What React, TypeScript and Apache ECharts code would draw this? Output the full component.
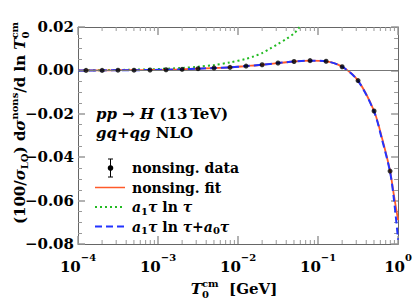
import React, { useEffect, useRef } from "react";
import * as echarts from "echarts";

const X_MIN = 1e-4;
const X_MAX = 1;
const Y_MIN = -0.08;
const Y_MAX = 0.02;
const Y_STEP = 0.02;

// nonsingular data points (tau in GeV)
const dataTau = [1.26e-4, 2.0e-4, 3.16e-4, 5.01e-4, 7.94e-4, 1.26e-3, 2.0e-3, 3.16e-3, 5.01e-3, 7.94e-3, 0.0126, 0.02, 0.0316, 0.0501, 0.0794, 0.126, 0.2, 0.316, 0.501, 0.794];
const dataVal = [0.0, 0.0, 0.0001, 0.0001, 0.0002, 0.0003, 0.0005, 0.0008, 0.0011, 0.0014, 0.002, 0.0026, 0.0034, 0.0041, 0.0045, 0.0042, 0.0017, -0.0047, -0.0187, -0.0464];

// nonsing. fit curve
const fitTau = [1e-4, 1.26e-4, 2.0e-4, 3.16e-4, 5.01e-4, 7.94e-4, 1.26e-3, 2.0e-3, 3.16e-3, 5.01e-3, 7.94e-3, 0.0126, 0.02, 0.0316, 0.0501, 0.0794, 0.126, 0.2, 0.316, 0.501, 0.631, 0.794, 0.891, 1.0];
const fitVal = [0.0, 0.0, 0.0, 0.0001, 0.0001, 0.0002, 0.0003, 0.0005, 0.0008, 0.0011, 0.0014, 0.002, 0.0026, 0.0034, 0.0041, 0.0045, 0.0042, 0.0017, -0.0047, -0.0187, -0.0313, -0.0464, -0.058, -0.069];

// a1 tau ln tau
const leadTau = [1e-4, 3.16e-4, 7.94e-4, 2.0e-3, 3.16e-3, 5.01e-3, 7.94e-3, 0.0126, 0.0158, 0.02, 0.0251, 0.0316, 0.0398, 0.0501, 0.0575, 0.0631];
const leadVal = [0.0, 0.0002, 0.0005, 0.0011, 0.0017, 0.0025, 0.0037, 0.0053, 0.0065, 0.008, 0.01, 0.0122, 0.0144, 0.017, 0.0195, 0.0215];

// a1 tau ln tau + a0 tau
const nloTau = [1e-4, 1.26e-4, 2.0e-4, 3.16e-4, 5.01e-4, 7.94e-4, 1.26e-3, 2.0e-3, 3.16e-3, 5.01e-3, 7.94e-3, 0.0126, 0.02, 0.0316, 0.0501, 0.0794, 0.126, 0.2, 0.316, 0.501, 0.631, 0.794, 0.891, 1.0];
const nloVal = [0.0, 0.0, 0.0, 0.0001, 0.0001, 0.0002, 0.0003, 0.0005, 0.0008, 0.0011, 0.0014, 0.002, 0.0026, 0.0034, 0.0041, 0.0045, 0.0042, 0.0017, -0.0048, -0.019, -0.032, -0.0468, -0.060, -0.078];

const FONT = '"DejaVu Serif", "Liberation Serif", serif';
const C_FIT = "#ff5a2a";
const C_LEAD = "#22bb22";
const C_NLO = "#2233ff";
const C_AXIS = "#666666";
const C_TICK = "#999999";

type Tok = { t: string; s: number; i?: boolean; dy?: number; stack?: boolean };

function layout(tokens: Tok[], x0: number, y0: number, align: "left" | "center"): any[] {
  const ctx = document.createElement("canvas").getContext("2d")!;
  const placed: { tok: Tok; x: number }[] = [];
  let x = 0;
  let prevX = 0;
  let prevW = 0;
  for (const tok of tokens) {
    ctx.font = `${tok.i ? "italic " : ""}bold ${tok.s}px ${FONT}`;
    const w = ctx.measureText(tok.t).width;
    if (tok.stack) {
      placed.push({ tok, x: prevX });
      prevW = Math.max(prevW, w);
      x = prevX + prevW;
    } else {
      placed.push({ tok, x });
      prevX = x;
      prevW = w;
      x += w;
    }
  }
  const off = align === "center" ? -x / 2 : 0;
  return placed.map(({ tok, x: tx }) => ({
    type: "text",
    x: x0 + tx + off,
    y: y0 + (tok.dy || 0),
    silent: true,
    style: {
      text: tok.t,
      fontSize: tok.s,
      fontFamily: FONT,
      fontWeight: "bold",
      fontStyle: tok.i ? "italic" : "normal",
      fill: "#000",
      align: "left",
      verticalAlign: "middle",
    },
  }));
}

const minorTicks: number[] = [];
for (let e = -4; e < 0; e++) {
  for (let k = 2; k <= 9; k++) minorTicks.push(k * Math.pow(10, e));
}

function expLabel(v: number) {
  const e = Math.round(Math.log10(v));
  const s = e < 0 ? "\u2212" + String(-e) : String(e);
  return "{b|10}{s|" + s + "}";
}

function yLabel(v: number) {
  const s = Math.abs(v) < 1e-9 ? "0.00" : v.toFixed(2);
  return s.replace("-", "\u2212");
}

export default function App() {
  const ref = useRef<HTMLDivElement>(null);
  useEffect(() => {
    document.body.style.margin = "0";
    const chart = echarts.init(ref.current!, undefined, { renderer: "svg" });

    const S = 15;
    const s = 10;
    const graphic: any[] = [];
    // annotation
    graphic.push(
      ...layout(
        [
          { t: "pp", s: S, i: true },
          { t: " \u2192 ", s: S },
          { t: "H", s: S, i: true },
          { t: " (13\u2009TeV)", s: S },
        ],
        96,
        114,
        "left"
      )
    );
    graphic.push(
      ...layout(
        [
          { t: "gq", s: S, i: true },
          { t: "+", s: S },
          { t: "qg", s: S, i: true },
          { t: " NLO", s: S },
        ],
        96,
        133,
        "left"
      )
    );
    // legend
    const LS = 14;
    const lx = 132;
    graphic.push(
      { type: "line", silent: true, shape: { x1: 110.5, y1: 159, x2: 110.5, y2: 177 }, style: { stroke: "#000", lineWidth: 1 } },
      { type: "line", silent: true, shape: { x1: 108, y1: 159, x2: 113, y2: 159 }, style: { stroke: "#000", lineWidth: 1 } },
      { type: "line", silent: true, shape: { x1: 108, y1: 177, x2: 113, y2: 177 }, style: { stroke: "#000", lineWidth: 1 } },
      { type: "circle", silent: true, shape: { cx: 110.5, cy: 168, r: 2.8 }, style: { fill: "#000" } },
      { type: "line", silent: true, shape: { x1: 95, y1: 187.5, x2: 125, y2: 187.5 }, style: { stroke: C_FIT, lineWidth: 1.5 } },
      { type: "line", silent: true, shape: { x1: 95, y1: 207, x2: 125, y2: 207 }, style: { stroke: C_LEAD, lineWidth: 2, lineDash: [2, 3] } },
      { type: "line", silent: true, shape: { x1: 95, y1: 226.5, x2: 125, y2: 226.5 }, style: { stroke: C_NLO, lineWidth: 2, lineDash: [7, 4] } }
    );
    graphic.push(...layout([{ t: "nonsing. data", s: LS }], lx, 168, "left"));
    graphic.push(...layout([{ t: "nonsing. fit", s: LS }], lx, 187.5, "left"));
    graphic.push(
      ...layout(
        [
          { t: "a", s: LS, i: true },
          { t: "1", s: s, dy: 4 },
          { t: "\u03c4", s: LS, i: true },
          { t: " ln ", s: LS },
          { t: "\u03c4", s: LS, i: true },
        ],
        lx,
        207,
        "left"
      )
    );
    graphic.push(
      ...layout(
        [
          { t: "a", s: LS, i: true },
          { t: "1", s: s, dy: 4 },
          { t: "\u03c4", s: LS, i: true },
          { t: " ln ", s: LS },
          { t: "\u03c4", s: LS, i: true },
          { t: "+", s: LS },
          { t: "a", s: LS, i: true },
          { t: "0", s: s, dy: 4 },
          { t: "\u03c4", s: LS, i: true },
        ],
        lx,
        226.5,
        "left"
      )
    );
    // x axis title
    graphic.push(
      ...layout(
        [
          { t: "T", s: S, i: true },
          { t: "cm", s: s, dy: -6 },
          { t: "0", s: s, dy: 5, stack: true },
          { t: "  [GeV]", s: S },
        ],
        234,
        289,
        "center"
      )
    );
    // y axis title (rotated)
    graphic.push({
      type: "group",
      x: 20,
      y: 123,
      rotation: Math.PI / 2,
      silent: true,
      children: layout(
        [
          { t: "(100/", s: S },
          { t: "\u03c3", s: S, i: true },
          { t: "LO", s: s, dy: 4 },
          { t: ") d", s: S },
          { t: "\u03c3", s: S, i: true },
          { t: "nons", s: s, dy: -6 },
          { t: "/d ln", s: S },
          { t: " T", s: S, i: true },
          { t: "cm", s: s, dy: -6 },
          { t: "0", s: s, dy: 5, stack: true },
        ],
        0,
        0,
        "center"
      ),
    });

    const axisLine = { show: true, onZero: false, lineStyle: { color: C_AXIS, width: 1 } };
    const xTick = { show: true, inside: true, length: 8, lineStyle: { color: C_TICK, width: 1.5 } };
    const yTick = { show: true, inside: true, length: 7, lineStyle: { color: C_TICK, width: 1.5 } };
    const yMinor = { show: true, splitNumber: 4, length: 4, lineStyle: { color: C_TICK, width: 1 } };

    const option: any = {
      animation: false,
      grid: { left: 78, right: 14, top: 27, bottom: 56 },
      xAxis: [
        {
          type: "log",
          logBase: 10,
          min: X_MIN,
          max: X_MAX,
          position: "bottom",
          axisLine,
          axisTick: xTick,
          splitLine: { show: false },
          axisLabel: {
            margin: 8,
            formatter: expLabel,
            rich: {
              b: { fontSize: 15, fontFamily: FONT, fontWeight: "bold", color: "#000", lineHeight: 22, verticalAlign: "bottom" },
              s: { fontSize: 10, fontFamily: FONT, fontWeight: "bold", color: "#000", verticalAlign: "top" },
            },
          },
        },
        {
          type: "log",
          logBase: 10,
          min: X_MIN,
          max: X_MAX,
          position: "top",
          axisLine,
          axisTick: xTick,
          splitLine: { show: false },
          axisLabel: { show: false },
        },
      ],
      yAxis: [
        {
          type: "value",
          min: Y_MIN,
          max: Y_MAX,
          interval: Y_STEP,
          position: "left",
          axisLine,
          axisTick: yTick,
          minorTick: yMinor,
          splitLine: { show: false },
          axisLabel: { formatter: yLabel, fontSize: 15, fontFamily: FONT, fontWeight: "bold", color: "#000", margin: 4 },
        },
        {
          type: "value",
          min: Y_MIN,
          max: Y_MAX,
          interval: Y_STEP,
          position: "right",
          axisLine,
          axisTick: yTick,
          minorTick: yMinor,
          splitLine: { show: false },
          axisLabel: { show: false },
        },
      ],
      series: [
        {
          type: "line",
          name: "zero",
          data: [],
          z: 1,
          silent: true,
          markLine: {
            silent: true,
            symbol: "none",
            label: { show: false },
            lineStyle: { color: "#777", width: 1, type: "solid" },
            data: [{ yAxis: 0 }],
          },
        },
        {
          type: "line",
          name: "lead",
          data: leadTau.map((t, i) => [t, leadVal[i]]),
          smooth: 0.3,
          showSymbol: false,
          z: 2,
          lineStyle: { color: C_LEAD, width: 2, type: [2, 3] },
        },
        {
          type: "line",
          name: "fit",
          data: fitTau.map((t, i) => [t, fitVal[i]]),
          smooth: 0.3,
          showSymbol: false,
          z: 3,
          lineStyle: { color: C_FIT, width: 1.8 },
        },
        {
          type: "line",
          name: "nlo",
          data: nloTau.map((t, i) => [t, nloVal[i]]),
          smooth: 0.3,
          showSymbol: false,
          z: 4,
          lineStyle: { color: C_NLO, width: 2, type: [7, 4] },
        },
        {
          type: "scatter",
          name: "data",
          data: dataTau.map((t, i) => [t, dataVal[i]]),
          symbol: "circle",
          symbolSize: 5,
          z: 5,
          itemStyle: { color: "#000" },
        },
        {
          type: "custom",
          name: "minorTicks",
          silent: true,
          z: 6,
          data: minorTicks.map((t) => [t, Y_MIN]),
          renderItem: (params: any, api: any) => {
            const t = api.value(0);
            const b = api.coord([t, Y_MIN]);
            const tp = api.coord([t, Y_MAX]);
            const st = { stroke: C_TICK, lineWidth: 1 };
            return {
              type: "group",
              children: [
                { type: "line", shape: { x1: b[0], y1: b[1], x2: b[0], y2: b[1] - 4 }, style: st },
                { type: "line", shape: { x1: tp[0], y1: tp[1], x2: tp[0], y2: tp[1] + 4 }, style: st },
              ],
            };
          },
        },
      ],
      graphic,
    };
    chart.setOption(option);
    return () => chart.dispose();
  }, []);
  return <div ref={ref} style={{ width: 415, height: 300 }} />;
}
